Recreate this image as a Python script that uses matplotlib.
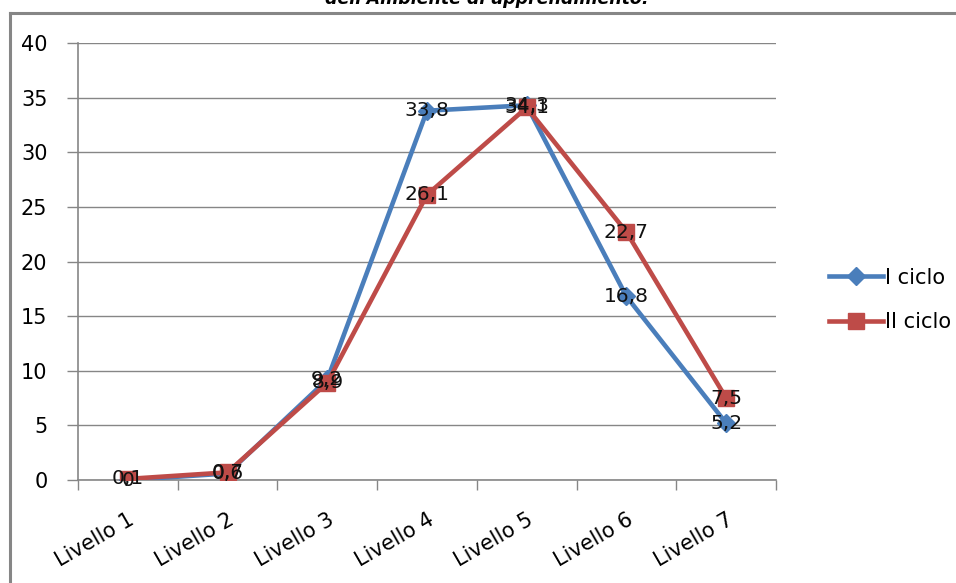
import matplotlib.pyplot as plt
from matplotlib.lines import Line2D

# livelli raggiunti, percentuali per ciclo
livelli = ["Livello 1", "Livello 2", "Livello 3", "Livello 4",
           "Livello 5", "Livello 6", "Livello 7"]
ciclo1 = [0, 0.6, 9.2, 33.8, 34.3, 16.8, 5.2]
ciclo2 = [0.1, 0.7, 8.9, 26.1, 34.1, 22.7, 7.5]

blu = "#4A7EBB"
rosso = "#BE4B48"
grigio = "#868686"

W, H = 956, 583
fig = plt.figure(figsize=(W / 100, H / 100), dpi=100)
ax = fig.add_axes([78 / W, 1 - 480 / H, (776 - 78) / W, (480 - 43) / H])

x = list(range(len(livelli)))
ax.plot(x, ciclo1, color=blu, lw=3.3, marker="D", ms=9, mec=blu, mfc=blu,
        zorder=3, label="I ciclo")
ax.plot(x, ciclo2, color=rosso, lw=3.3, marker="s", ms=12, mec=rosso, mfc=rosso,
        zorder=4, label="II ciclo")

def etichetta(v):
    return ("%g" % v).replace(".", ",")

for serie in (ciclo1, ciclo2):
    for i, v in zip(x, serie):
        ax.text(i, v, etichetta(v), ha="center", va="center", fontsize=14.5,
                color="#111111", zorder=5)

ax.set_xlim(-0.5, len(livelli) - 0.5)
ax.set_ylim(0, 40)
ax.set_yticks(range(0, 41, 5))
ax.yaxis.grid(True, color=grigio, lw=1)
ax.set_axisbelow(True)

# tacche ai confini delle categorie, etichette al centro
ax.set_xticks([i - 0.5 for i in range(len(livelli) + 1)])
ax.set_xticklabels([])
ax.set_xticks(x, minor=True)
ax.set_xticklabels(livelli, minor=True, rotation=30, ha="right",
                   rotation_mode="anchor", fontsize=15)
ax.tick_params(axis="x", which="minor", length=0, pad=21)
ax.tick_params(axis="x", which="major", length=7, color=grigio, width=1)
ax.tick_params(axis="y", length=8, color=grigio, width=1, labelsize=15, pad=14)

for s in ("top", "right"):
    ax.spines[s].set_visible(False)
for s in ("left", "bottom"):
    ax.spines[s].set_color(grigio)
    ax.spines[s].set_linewidth(1.2)

handles = [
    Line2D([], [], color=blu, lw=3.3, marker="D", ms=9),
    Line2D([], [], color=rosso, lw=3.3, marker="s", ms=12),
]
fig.legend(handles, ["I ciclo", "II ciclo"], loc="center left",
           bbox_to_anchor=(810 / W, 1 - 300 / H), frameon=False, fontsize=15,
           handlelength=2.6, handletextpad=0.1, labelspacing=1.2)

# cornice del grafico
fig.add_artist(Line2D([9.5 / W, 1], [1 - 12.5 / H, 1 - 12.5 / H],
                      transform=fig.transFigure, color=grigio, lw=2.2))
fig.add_artist(Line2D([9.5 / W, 9.5 / W], [0, 1 - 12.5 / H],
                      transform=fig.transFigure, color=grigio, lw=2.2))

fig.text(487 / W, 1 - 4 / H, "dell'Ambiente di apprendimento.", ha="center",
         va="baseline", fontsize=12.5, fontweight="bold", fontstyle="italic")

fig.savefig("out.png", dpi=100)
